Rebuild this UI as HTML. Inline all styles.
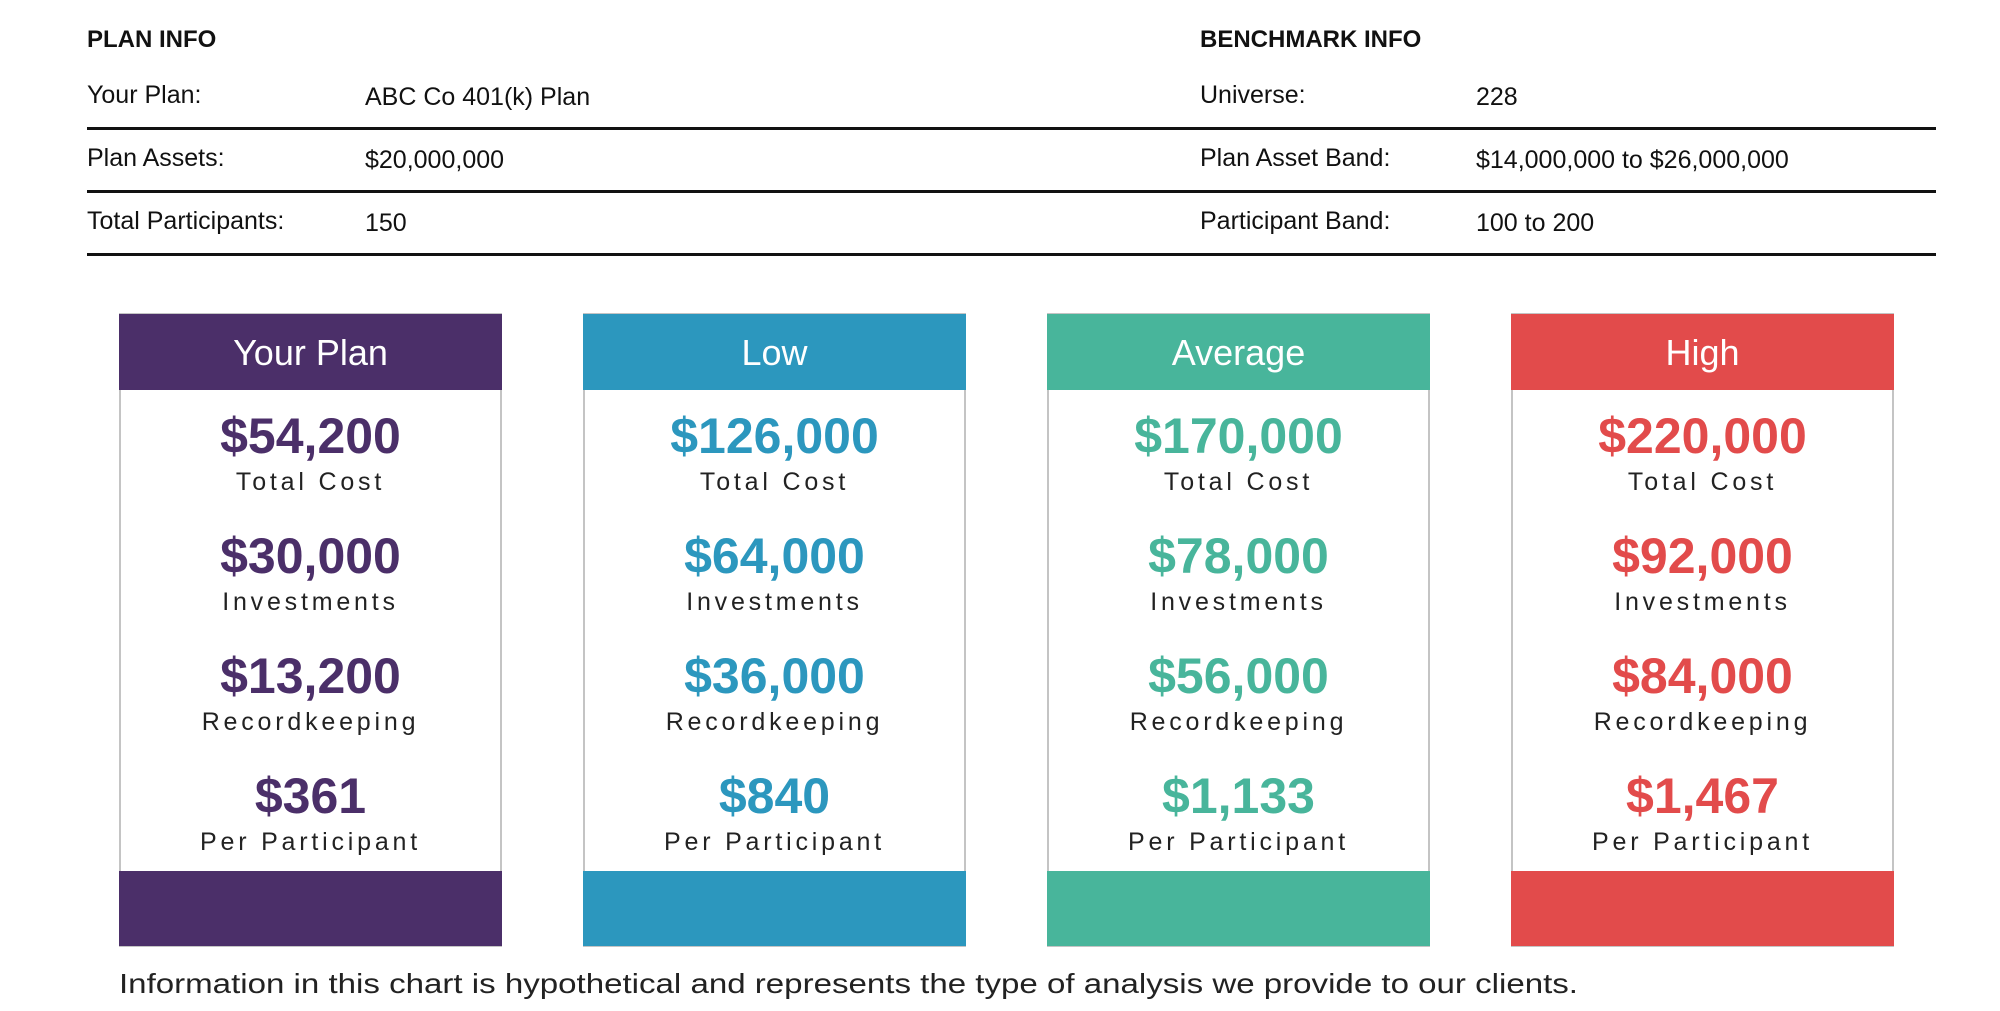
<!DOCTYPE html>
<html><head><meta charset="utf-8"><style>
html,body{margin:0;padding:0;background:#fff;width:2000px;height:1011px;overflow:hidden}
svg{display:block;font-family:"Liberation Sans",sans-serif}
</style></head><body>
<svg id="chart" width="2000" height="1011" viewBox="0 0 2000 1011">
<g>
<text x="87" y="47" font-size="24" font-weight="bold" fill="#111">PLAN INFO</text>
<text x="87" y="103" font-size="25" fill="#111">Your Plan:</text>
<text x="365" y="105" font-size="25" fill="#111">ABC Co 401(k) Plan</text>
<text x="87" y="166" font-size="25" fill="#111">Plan Assets:</text>
<text x="365" y="168" font-size="25" fill="#111">$20,000,000</text>
<text x="87" y="229" font-size="25" fill="#111">Total Participants:</text>
<text x="365" y="231" font-size="25" fill="#111">150</text>
</g>
<g>
<text x="1200" y="47" font-size="24" font-weight="bold" fill="#111">BENCHMARK INFO</text>
<text x="1200" y="103" font-size="25" fill="#111">Universe:</text>
<text x="1476" y="105" font-size="25" fill="#111">228</text>
<text x="1200" y="166" font-size="25" fill="#111">Plan Asset Band:</text>
<text x="1476" y="168" font-size="25" fill="#111">$14,000,000 to $26,000,000</text>
<text x="1200" y="229" font-size="25" fill="#111">Participant Band:</text>
<text x="1476" y="231" font-size="25" fill="#111">100 to 200</text>
</g>
<rect x="87" y="127" width="1849" height="3" fill="#111"/>
<rect x="87" y="190" width="1849" height="3" fill="#111"/>
<rect x="87" y="253" width="1849" height="3" fill="#111"/>
<g id="cards"></g>
<text x="119" y="993" font-size="28" fill="#222" textLength="1459" lengthAdjust="spacingAndGlyphs">Information in this chart is hypothetical and represents the type of analysis we  provide to our clients.</text>
</svg>
<script>
const cardTitles = ["Your Plan", "Low", "Average", "High"];
const totalCost = ["$54,200", "$126,000", "$170,000", "$220,000"];
const investments = ["$30,000", "$64,000", "$78,000", "$92,000"];
const recordkeeping = ["$13,200", "$36,000", "$56,000", "$84,000"];
const perParticipant = ["$361", "$840", "$1,133", "$1,467"];
const metricLabels = ["Total Cost", "Investments", "Recordkeeping", "Per Participant"];
const colors = ["#4b2f69", "#2c97be", "#48b59b", "#e24b4b"];

const NS = "http://www.w3.org/2000/svg";
const g = document.getElementById("cards");
function mk(tag, attrs, parent) {
  const e = document.createElementNS(NS, tag);
  for (const k in attrs) e.setAttribute(k, attrs[k]);
  parent.appendChild(e);
  return e;
}
const metrics = [totalCost, investments, recordkeeping, perParticipant];
cardTitles.forEach((title, i) => {
  const x = 119 + i * 464, w = 383, cx = x + w / 2;
  const card = mk("g", {}, g);
  
  
  const body = mk("rect", {x: x + 1, y: 314, width: w - 2, height: 632, fill: "#fff", stroke: "#c4c4c4", "stroke-width": 2}, card);
  
  
  const head = mk("rect", {x: x, y: 314, width: w, height: 76, fill: colors[i]}, card);
  
  
  const ht = mk("text", {x: cx, y: 365, "text-anchor": "middle", "font-size": 36, fill: "#fff"}, card);
  ht.textContent = title;
  
  
  const foot = mk("rect", {x: x, y: 871, width: w, height: 75, fill: colors[i]}, card);
  
  
  metrics.forEach((arr, j) => {
    const vy = 453 + j * 120;
    const v = mk("text", {x: cx, y: vy, "text-anchor": "middle", "font-size": 50, "font-weight": "bold", fill: colors[i]}, card);
    v.textContent = arr[i];
    
    
    const l = mk("text", {x: cx, y: vy + 37, "text-anchor": "middle", "font-size": 25, "letter-spacing": 3.8, fill: "#222"}, card);
    l.textContent = metricLabels[j];
    
    
  });
});
</script>
</body></html>
